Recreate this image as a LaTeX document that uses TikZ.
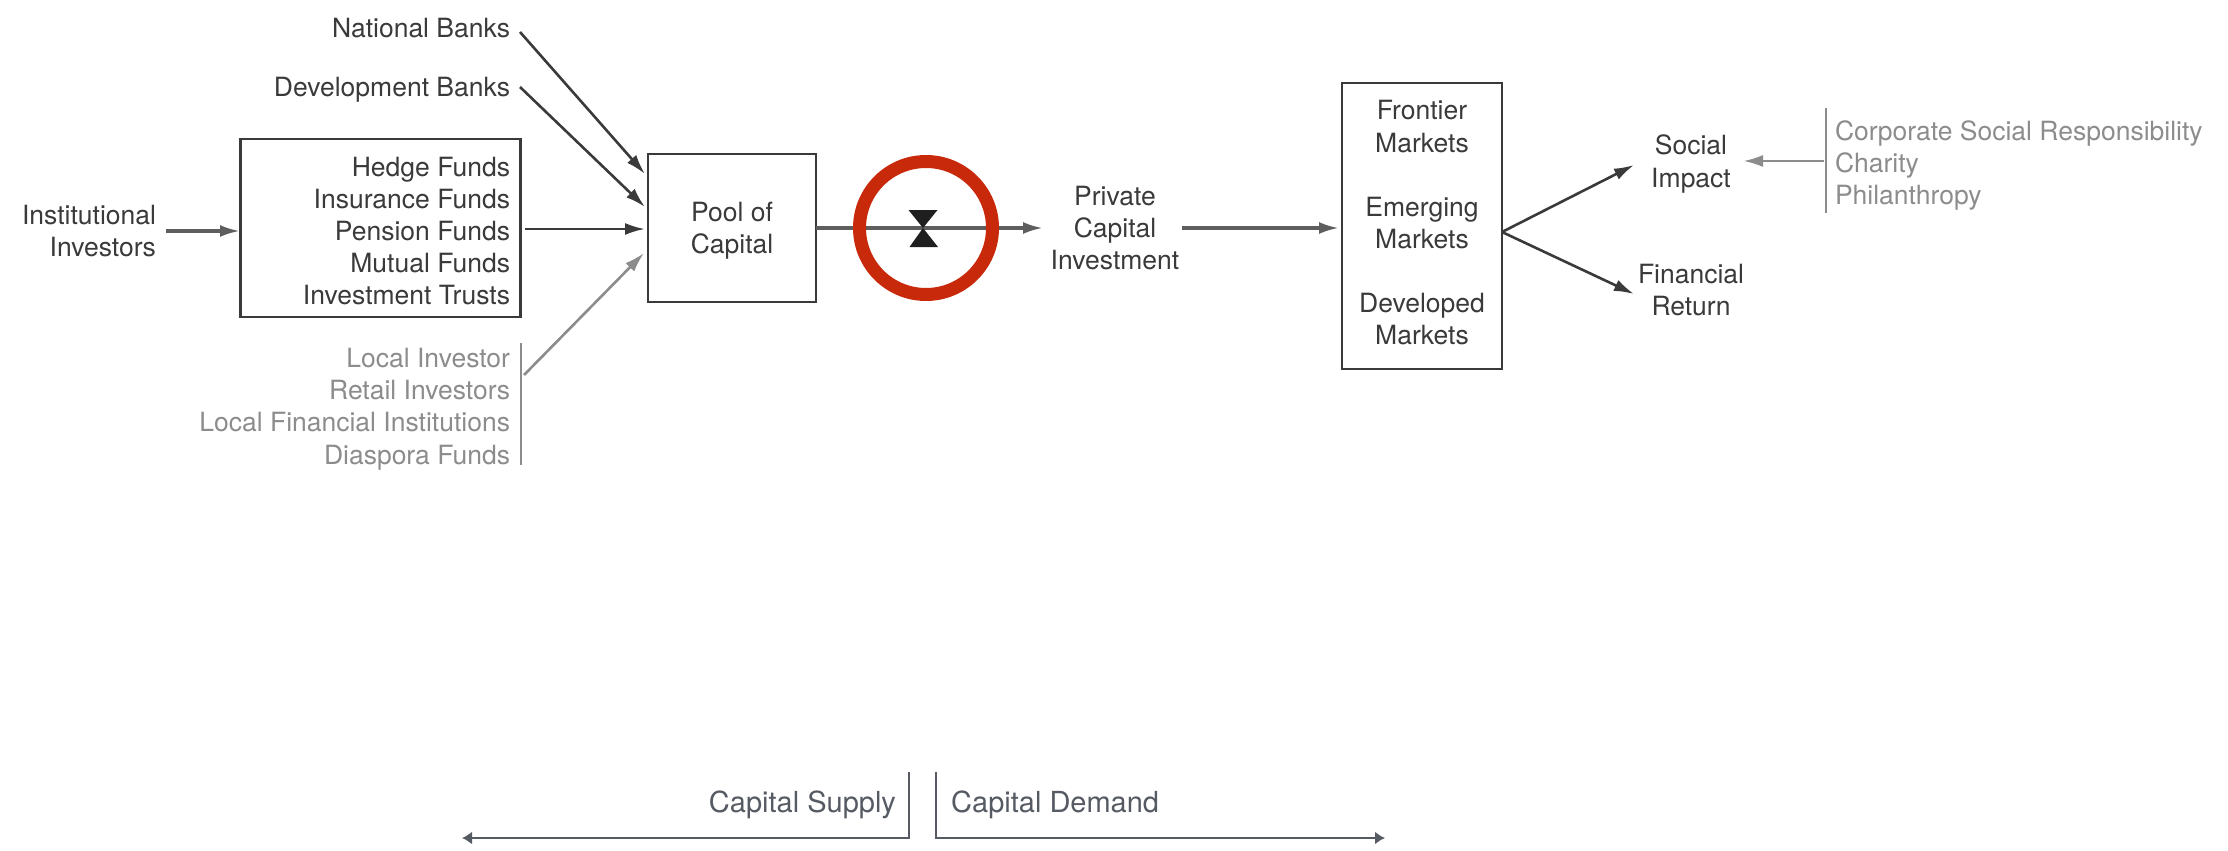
\documentclass[tikz,border=0pt]{standalone}
\usepackage{fontspec}
\setmainfont{TeX Gyre Heros}
\usetikzlibrary{arrows.meta}
\definecolor{ink}{HTML}{3A3A3A}
\definecolor{midline}{HTML}{5E5E5E}
\definecolor{soft}{HTML}{8C8C8C}
\definecolor{slate}{HTML}{555A63}
\definecolor{ringred}{HTML}{C7290A}
\tikzset{
  x=1pt,y=-1pt,
  base/.style={font=\fontsize{26.5}{32.2}\selectfont,text=ink,inner ysep=0pt,inner xsep=10pt,outer sep=0pt},
  lblr/.style={base,align=right,anchor=east},
  lblc/.style={base,align=center},
  softr/.style={lblr,text=soft},
  softl/.style={base,align=left,anchor=west,text=soft},
  boxed/.style={draw=ink,line width=2.4pt,inner sep=0pt,outer sep=0pt},
  conn/.style={draw=ink,line width=2.6pt,-{Latex[length=20pt,width=12pt]}},
  connh/.style={draw=midline,line width=3.2pt,-{Latex[length=20pt,width=12pt]}},
  connsoft/.style={draw=soft,line width=2.6pt,-{Latex[length=20pt,width=12pt]}},
  rulesoft/.style={draw=soft,line width=2.4pt},
  slatearrow/.style={draw=slate,line width=2.4pt,-{Latex[length=10pt,width=13pt]}},
  slatetext/.style={font=\fontsize{29}{34}\selectfont,text=slate,inner sep=0pt}
}
\begin{document}
\begin{tikzpicture}
\useasboundingbox (0,0) rectangle (2228,851);

% boxes
\node[boxed,minimum width=280pt,minimum height=178pt] (fundsbox) at (380.5,228) {};
\node[boxed,minimum width=168pt,minimum height=148pt] (pool) at (732,228) {};
\node[boxed,minimum width=160pt,minimum height=286pt] (marketsbox) at (1422,226) {};

% text nodes
\node[lblr] (national) at (520,28) {National Banks};
\node[lblr] (development) at (520,90) {Development Banks};
\node[lblr] (institutional) at (166,231) {Institutional\\Investors};
\node[lblr] (funds) at (520,231) {Hedge Funds\\Insurance Funds\\Pension Funds\\Mutual Funds\\Investment Trusts};
\node[lblc] (poolt) at (732,231) {Pool of\\Capital};
\node[softr] (local) at (520,409) {Local Investor\\Retail Investors\\Local Financial Institutions\\Diaspora Funds};
\node[lblc,inner xsep=9pt] (private) at (1115,228) {Private\\Capital\\Investment};
\node[lblc] (markets) at (1422,223) {Frontier\\Markets\\[32pt]Emerging\\Markets\\[32pt]Developed\\Markets};
\node[lblc] (social) at (1691,164) {Social\\Impact};
\node[lblc] (financial) at (1691,290) {Financial\\Return};
\node[softl,inner xsep=0pt] (csr) at (1835,165.5) {Corporate Social Responsibility\\Charity\\Philanthropy};
\node[slatetext,anchor=east] (supply) at (896,805) {Capital Supply};
\node[slatetext,anchor=west] (demand) at (951,805) {Capital Demand};

% free ends
\coordinate (poolA) at (645,174);
\coordinate (poolB) at (645,207);
\coordinate (poolC) at (645,229);
\coordinate (poolD) at (644,253);
\coordinate (localTop) at (521,343);
\coordinate (localBot) at (521,465);
\coordinate (localOut) at (524,375);
\coordinate (socialIn) at (1634,165);
\coordinate (finIn) at (1634,294);
\coordinate (branch) at (1502,232);
\coordinate (csrTop) at (1826,108);
\coordinate (csrBot) at (1826,213);
\coordinate (csrOut) at (1824,161);
\coordinate (socialOut) at (1743,161);
\coordinate (supTop) at (909,772);
\coordinate (supEnd) at (462,838);
\coordinate (demTop) at (936,772);
\coordinate (demEnd) at (1385,838);
\coordinate (fundsOut) at (525,229);
\coordinate (instIn) at (240,231);
\coordinate (privateIn) at (1043,228);
\coordinate (marketsIn) at (1339,228);

% connectors
\draw[conn] ([yshift=-4pt]national.east) -- (poolA);
\draw[conn] ([yshift=3pt]development.east) -- (poolB);
\draw[connh] (institutional.east) -- (instIn);
\draw[conn] (fundsOut) -- (poolC);
\draw[rulesoft] (localTop) -- (localBot);
\draw[connsoft] (localOut) -- (poolD);
\draw[connh] (pool.east) -- (privateIn);
\draw[connh] ([xshift=-6pt]private.east) -- (marketsIn);
\draw[conn] (branch) -- (socialIn);
\draw[conn] (branch) -- (finIn);
\draw[rulesoft] (csrTop) -- (csrBot);
\draw[connsoft] (csrOut) -- (socialOut);

% valve and ring
\fill[black!88] (908.5,210) -- (937.5,210) -- (923,228) -- (909.5,247) -- (938,247) -- (923,228) -- cycle;
\draw[ringred,line width=13pt] (926,228) circle [radius=66.5];

% bottom brackets
\draw[slatearrow] (supTop) |- (supEnd);
\draw[slatearrow] (demTop) |- (demEnd);
\end{tikzpicture}
\end{document}
